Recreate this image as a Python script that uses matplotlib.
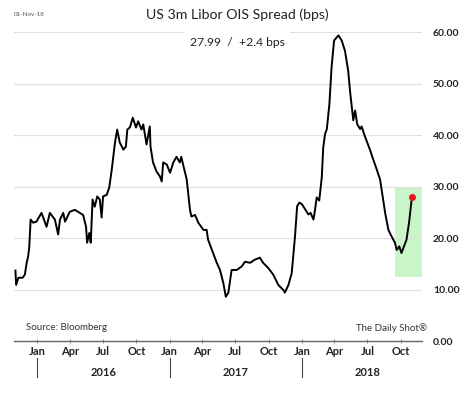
import matplotlib
matplotlib.use("Agg")
import matplotlib.pyplot as plt
import matplotlib.dates as mdates
import pandas as pd

plt.rcParams['font.family'] = ['Lato', 'DejaVu Sans']

# spread series (bps)
dates = ["2015-11-02", "2015-11-04", "2015-11-10", "2015-11-22", "2015-11-28", "2015-12-03",
         "2015-12-07", "2015-12-10", "2015-12-14", "2015-12-21", "2015-12-30", "2016-01-13",
         "2016-01-27", "2016-02-05", "2016-02-19", "2016-02-28", "2016-03-04", "2016-03-13",
         "2016-03-18", "2016-03-31", "2016-04-14", "2016-04-28", "2016-05-07", "2016-05-15",
         "2016-05-18", "2016-05-24", "2016-05-28", "2016-06-02", "2016-06-08", "2016-06-15",
         "2016-06-22", "2016-06-27", "2016-07-01", "2016-07-11", "2016-07-18", "2016-07-25",
         "2016-08-03", "2016-08-09", "2016-08-16", "2016-08-26", "2016-09-02", "2016-09-06",
         "2016-09-13", "2016-09-21", "2016-09-30", "2016-10-06", "2016-10-15", "2016-10-20",
         "2016-10-29", "2016-11-07", "2016-11-09", "2016-11-16", "2016-11-26", "2016-12-05",
         "2016-12-10", "2016-12-14", "2016-12-24", "2017-01-02", "2017-01-11", "2017-01-20",
         "2017-01-29", "2017-02-02", "2017-02-07", "2017-02-17", "2017-02-26", "2017-03-02",
         "2017-03-12", "2017-03-21", "2017-04-04", "2017-04-13", "2017-04-17", "2017-05-01",
         "2017-05-11", "2017-05-20", "2017-05-29", "2017-06-05", "2017-06-12", "2017-06-21",
         "2017-07-05", "2017-07-19", "2017-07-28", "2017-08-11", "2017-08-24", "2017-09-07",
         "2017-09-16", "2017-09-30", "2017-10-14", "2017-10-28", "2017-11-11", "2017-11-15",
         "2017-11-25", "2017-12-04", "2017-12-13", "2017-12-19", "2017-12-25", "2018-01-01",
         "2018-01-10", "2018-01-19", "2018-01-25", "2018-02-02", "2018-02-06", "2018-02-11",
         "2018-02-18", "2018-02-25", "2018-03-01", "2018-03-06", "2018-03-11", "2018-03-18",
         "2018-03-24", "2018-03-31", "2018-04-07", "2018-04-12", "2018-04-21", "2018-04-30",
         "2018-05-09", "2018-05-14", "2018-05-19", "2018-05-23", "2018-05-28", "2018-06-03",
         "2018-06-11", "2018-06-15", "2018-06-24", "2018-07-08", "2018-07-17", "2018-07-27",
         "2018-08-05", "2018-08-12", "2018-08-19", "2018-08-28", "2018-09-06", "2018-09-15",
         "2018-09-20", "2018-09-27", "2018-10-03", "2018-10-10", "2018-10-17", "2018-10-24",
         "2018-11-01"]
spread = [13.7, 10.9, 12.3, 12.3, 12.9, 15.2,
          16.4, 18.1, 23.6, 23.0, 23.2, 24.9,
          22.2, 24.9, 23.6, 20.7, 23.6, 24.9,
          23.2, 25.1, 25.5, 24.9, 24.5, 22.2,
          19.1, 21.0, 19.1, 27.5, 26.1, 28.1,
          27.5, 24.0, 28.1, 28.4, 29.8, 33.3,
          38.6, 41.1, 38.6, 37.2, 37.8, 41.1,
          41.5, 43.4, 41.5, 42.7, 41.1, 42.1,
          38.2, 41.7, 37.8, 34.7, 32.9, 32.0,
          31.0, 34.7, 34.3, 32.7, 34.7, 35.8,
          34.7, 35.8, 34.3, 31.4, 25.5, 24.2,
          24.5, 23.0, 21.6, 21.6, 19.7, 17.1,
          15.2, 13.8, 11.3, 8.6, 9.4, 13.8,
          13.8, 14.5, 15.4, 15.2, 15.8, 16.2,
          15.2, 14.2, 12.9, 10.9, 9.9, 9.4,
          10.9, 13.2, 20.3, 26.2, 26.9, 26.6,
          25.6, 24.6, 24.9, 23.6, 25.3, 27.9,
          27.3, 31.8, 37.6, 40.2, 41.2, 46.0,
          53.2, 58.4, 59.0, 59.4, 58.4, 56.4,
          52.5, 48.6, 45.4, 42.9, 44.8, 42.1,
          41.2, 41.7, 39.8, 37.2, 35.3, 33.3,
          31.4, 28.1, 24.9, 21.6, 20.3, 19.1,
          17.7, 18.4, 17.1, 18.4, 19.7, 23.0,
          27.99]
last_change = 2.4
y_ticks = [0, 10, 20, 30, 40, 50, 60]
years = [2016, 2017, 2018]
highlight = ("2018-09-15", "2018-11-28", 12.5, 30)

dates = pd.to_datetime(dates)

fig = plt.figure(figsize=(4.74, 3.93), dpi=100)
ax = fig.add_axes([0.0295, 0.1323, 0.8602, 0.7855])

# green box round the latest move
ax.axvspan(pd.Timestamp(highlight[0]), pd.Timestamp(highlight[1]),
           ymin=highlight[2] / 60, ymax=highlight[3] / 60,
           color="#c9f5c9", lw=0, zorder=1)

ax.plot(dates, spread, color="black", lw=1.4, zorder=3)
ax.plot(dates[-1], spread[-1], "o", color="#e8141e", ms=4, zorder=4)

ax.set_xlim(pd.Timestamp("2015-10-29"), pd.Timestamp("2018-11-28"))
ax.set_ylim(0, 60)
ax.set_yticks(y_ticks)
ax.set_yticklabels(["%.2f" % v for v in y_ticks], fontweight="bold", fontsize=7.5, color="#222222")
ax.yaxis.tick_right()
ax.tick_params(axis="y", length=0, pad=8)
ax.grid(axis="y", color="#e0e0e0", lw=0.8, zorder=0)

ax.xaxis.set_major_locator(mdates.MonthLocator(bymonth=[1, 4, 7, 10]))
ax.xaxis.set_major_formatter(mdates.DateFormatter("%b"))
ax.tick_params(axis="x", direction="inout", length=3, width=0.6, color="#777777",
               labelsize=8, pad=2)
for lab in ax.get_xticklabels():
    lab.set_fontweight("bold")
    lab.set_color("#222222")

for s in ["top", "left", "right"]:
    ax.spines[s].set_visible(False)
ax.spines["bottom"].set_color("#666666")
ax.spines["bottom"].set_linewidth(1.0)

# year labels and separators under the months
for yr in years:
    ax.annotate(str(yr), xy=(pd.Timestamp("%d-07-02" % yr), 0), xycoords=("data", "axes fraction"),
                xytext=(0, -23), textcoords="offset points", ha="center", va="center",
                fontsize=8, fontweight="bold", color="#222222", annotation_clip=False)
    ax.plot([pd.Timestamp("%d-01-01" % yr)] * 2, [-0.055, -0.115], transform=ax.get_xaxis_transform(),
            color="#444444", lw=0.8, clip_on=False)

fig.text(0.5, 0.962, "US 3m Libor OIS Spread (bps)", ha="center", va="center", fontsize=10.2,
         color="#222222")
fig.text(0.03, 0.962, "01-Nov-18", ha="left", va="center", fontsize=4.5, color="#555555")
fig.text(0.5, 0.893, "27.99  /  +%.1f bps" % last_change, ha="center", va="center", fontsize=8.7,
         color="#222222", bbox=dict(facecolor="white", edgecolor="none", pad=4))
fig.text(0.055, 0.166, "Source: Bloomberg", ha="left", va="center", fontsize=7, color="#333333")
fig.text(0.9, 0.166, "The Daily Shot\u00ae", ha="right", va="center", fontsize=7, color="#333333")

fig.savefig("out.png", dpi=100)
